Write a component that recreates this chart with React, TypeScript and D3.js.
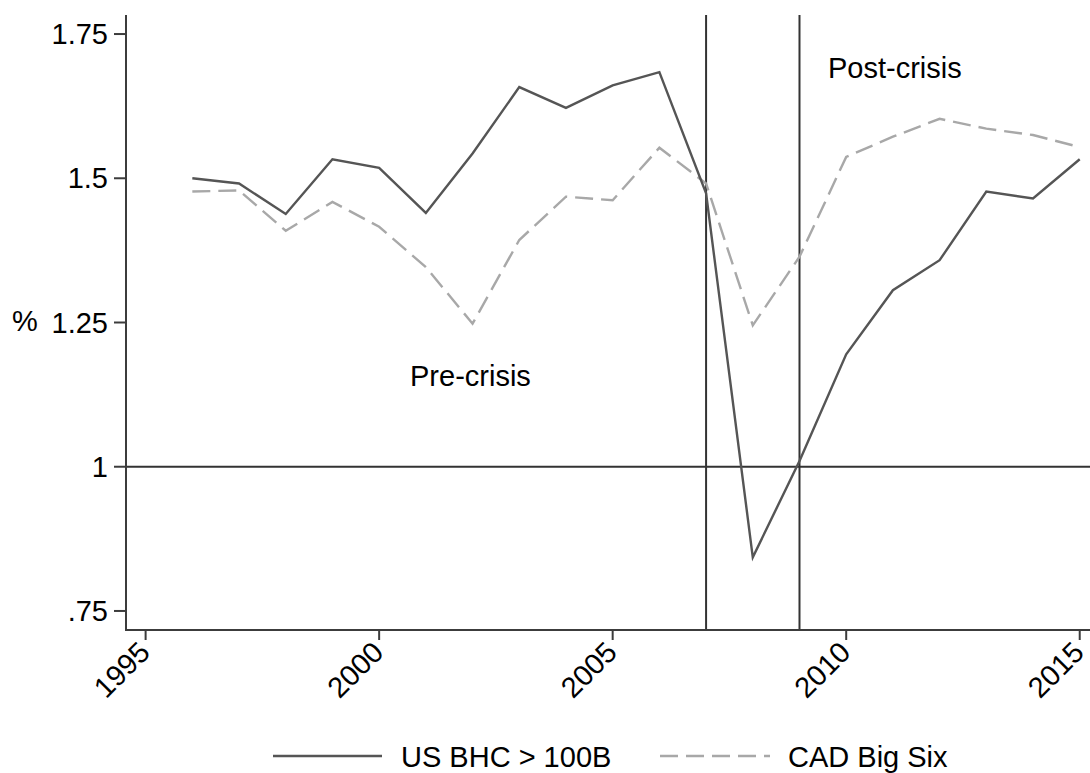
import React from "react";
import * as d3 from "d3";

const years = [1996, 1997, 1998, 1999, 2000, 2001, 2002, 2003, 2004, 2005, 2006, 2007, 2008, 2009, 2010, 2011, 2012, 2013, 2014, 2015];
const usBHC = [1.5, 1.491, 1.438, 1.533, 1.518, 1.44, 1.543, 1.658, 1.622, 1.661, 1.684, 1.474, 0.843, 1.01, 1.195, 1.306, 1.358, 1.477, 1.465, 1.533];
const cadBigSix = [1.477, 1.479, 1.409, 1.459, 1.416, 1.346, 1.248, 1.393, 1.468, 1.462, 1.553, 1.491, 1.245, 1.364, 1.537, 1.572, 1.603, 1.586, 1.575, 1.554];
const xTicks = [1995, 2000, 2005, 2010, 2015];
const yTicks = [0.75, 1, 1.25, 1.5, 1.75];
const yTickLabels = [".75", "1", "1.25", "1.5", "1.75"];
const crisisYears = [2007, 2009];
const seriesNames = ["US BHC > 100B", "CAD Big Six"];

const W = 1090;
const H = 773;
const FONT = "'Liberation Sans', Arial, sans-serif";

export default function App() {
  const x = d3.scaleLinear().domain([1994.58, 2015.22]).range([126, 1090]);
  const y = d3.scaleLinear().domain([0.717, 1.783]).range([630, 15]);
  const line = d3
    .line<[number, number]>()
    .x((d) => x(d[0]))
    .y((d) => y(d[1]));
  const usPts = years.map((yr, i) => [yr, usBHC[i]] as [number, number]);
  const cadPts = years.map((yr, i) => [yr, cadBigSix[i]] as [number, number]);
  const [y0, y1] = y.range();
  const axisColor = "#3c3c3c";
  const fs = 29;

  return (
    <svg
      width={W}
      height={H}
      style={{ position: "absolute", left: 0, top: 0, background: "#fff" }}
      fontFamily={FONT}
    >
      <rect x={0} y={0} width={W} height={H} fill="#fff" />
      {/* reference line at 1 */}
      <line x1={x.range()[0]} x2={x.range()[1]} y1={y(1)} y2={y(1)} stroke="#333" strokeWidth={2} />
      {/* crisis vertical lines */}
      {crisisYears.map((cy) => (
        <line key={cy} x1={x(cy)} x2={x(cy)} y1={y1} y2={y0} stroke="#333" strokeWidth={2} />
      ))}
      {/* series */}
      <path d={line(cadPts) || ""} fill="none" stroke="#a8a8a8" strokeWidth={2.4} strokeDasharray="18,8" />
      <path d={line(usPts) || ""} fill="none" stroke="#555" strokeWidth={2.4} />
      {/* axes */}
      <line x1={x.range()[0]} x2={x.range()[0]} y1={y1} y2={y0 + 1} stroke={axisColor} strokeWidth={2} />
      <line x1={x.range()[0]} x2={x.range()[1]} y1={y0} y2={y0} stroke={axisColor} strokeWidth={2} />
      {yTicks.map((t, i) => (
        <g key={t}>
          <line x1={114} x2={126} y1={y(t)} y2={y(t)} stroke={axisColor} strokeWidth={2} />
          <text x={108} y={y(t) + 10} textAnchor="end" fontSize={fs} fill="#000">
            {yTickLabels[i]}
          </text>
        </g>
      ))}
      {xTicks.map((t) => (
        <g key={t}>
          <line x1={x(t)} x2={x(t)} y1={y0} y2={y0 + 10} stroke={axisColor} strokeWidth={2} />
          <text
            transform={`translate(${x(t) + 6},${y0 + 24}) rotate(-45)`}
            textAnchor="end"
            fontSize={fs}
            fill="#000"
          >
            {t}
          </text>
        </g>
      ))}
      {/* y axis title */}
      <text x={12} y={331} fontSize={fs} fill="#000">%</text>
      {/* annotations */}
      <text x={410} y={386} fontSize={fs} fill="#000">Pre-crisis</text>
      <text x={828} y={78} fontSize={fs} fill="#000">Post-crisis</text>
      {/* legend */}
      <line x1={273} x2={382} y1={756} y2={756} stroke="#555" strokeWidth={2.4} />
      <text x={401} y={767} fontSize={fs} fill="#000">{seriesNames[0]}</text>
      <line x1={660} x2={770} y1={756} y2={756} stroke="#a8a8a8" strokeWidth={2.4} strokeDasharray="18,8" />
      <text x={788} y={767} fontSize={fs} fill="#000">{seriesNames[1]}</text>
    </svg>
  );
}
